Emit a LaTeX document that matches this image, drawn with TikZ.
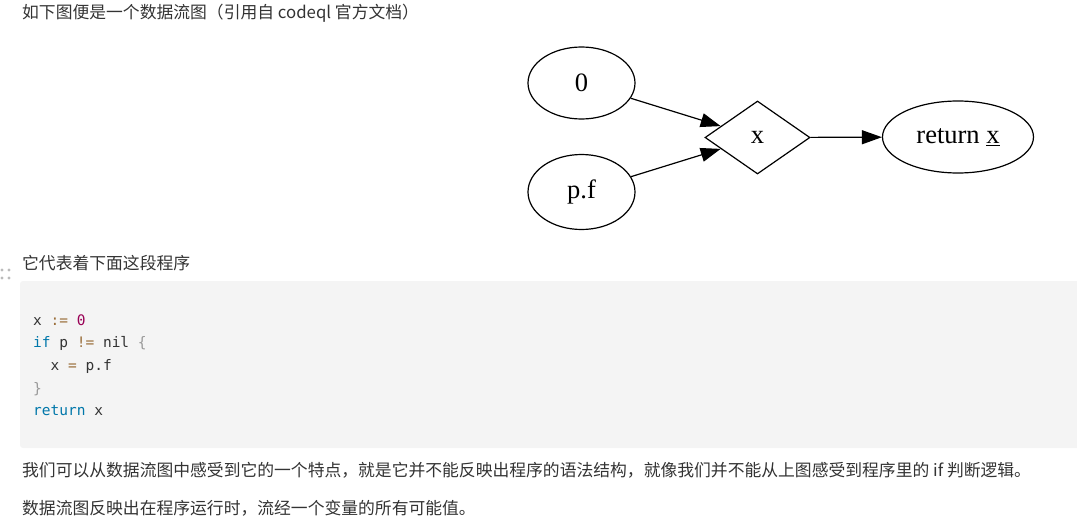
\documentclass[tikz,border=0pt]{standalone}
\usepackage{fontspec}
\setmainfont{Liberation Serif}
\setmonofont{DejaVu Sans Mono}
\newfontfamily\cjk{Noto Sans CJK SC}
\usetikzlibrary{shapes.geometric,arrows.meta}
\definecolor{txt}{HTML}{333333}
\definecolor{codebg}{HTML}{F4F4F4}
\definecolor{kw}{HTML}{0077AA}
\definecolor{op}{HTML}{9A6E3A}
\definecolor{num}{HTML}{990055}
\definecolor{punc}{HTML}{999999}
\definecolor{dots}{HTML}{BBBBBB}
\tikzset{
  para/.style={anchor=west, inner sep=0pt, text=txt, font=\cjk\fontsize{16.8}{19}\selectfont},
  codeline/.style={anchor=west, inner sep=0pt, text=txt, font=\ttfamily\fontsize{14.5}{17}\selectfont},
  gnode/.style={draw, line width=1.2pt, inner sep=0pt, font=\fontsize{26.5}{30}\selectfont},
  oval/.style={gnode, ellipse},
  decision/.style={gnode, diamond, aspect=1.44},
  flow/.style={line width=1.2pt, -{Triangle[length=20pt,width=14pt]}},
}
\begin{document}
\begin{tikzpicture}[x=1pt,y=-1pt]
\useasboundingbox (0,0) rectangle (1077,527);
\node[para] (t1) at (22,13) {如下图便是一个数据流图（引用自 codeql 官方文档）};

\node[oval, minimum width=107pt, minimum height=72pt] (zero) at (581.5,83) {0};
\node[oval, minimum width=107pt, minimum height=75pt] (pf) at (581.5,192) {p.f};
\node[decision, minimum width=105pt, minimum height=73pt] (x) at (757.5,137.5) {x};
\node[oval, minimum width=151pt, minimum height=72pt] (ret) at (958,137) {return \underline{x}};
\draw[flow] (zero) -- (x);
\draw[flow] (pf) -- (x);
\draw[flow] (x) -- (ret);

\fill[dots] (2,270) circle (1.6) (9,270) circle (1.6) (2,278) circle (1.6) (9,278) circle (1.6);
\node[para] (t2) at (22,263) {它代表着下面这段程序};

\fill[codebg, rounded corners=3pt] (20,281) rectangle (1090,448);
\node[codeline] (c1) at (33,320) {x \textcolor{op}{:=} \textcolor{num}{0}};
\node[codeline] (c2) at (33,343) {\textcolor{kw}{if} p \textcolor{op}{!=} nil \textcolor{punc}{\{}};
\node[codeline] (c3) at (33,366) {\ \ x \textcolor{op}{=} p.f};
\node[codeline] (c4) at (33,389) {\textcolor{punc}{\}}};
\node[codeline] (c5) at (33,411) {\textcolor{kw}{return} x};

\node[para] (p1) at (22,470) {我们可以从数据流图中感受到它的一个特点，就是它并不能反映出程序的语法结构，就像我们并不能从上图感受到程序里的 if 判断逻辑。};
\node[para] (p2) at (22,508) {数据流图反映出在程序运行时，流经一个变量的所有可能值。};
\end{tikzpicture}
\end{document}
